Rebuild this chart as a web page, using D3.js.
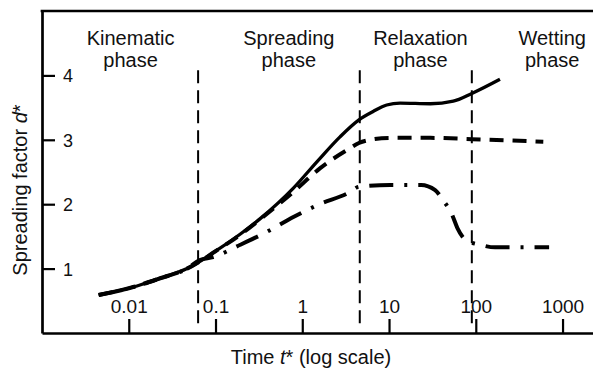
<!DOCTYPE html>
<html>
<head>
<meta charset="utf-8">
<script src="https://cdn.jsdelivr.net/npm/d3@7"></script>
<style>
  body { margin: 0; background: #fff; }
  svg { display: block; font-family: "Liberation Sans", Arial, sans-serif; }
</style>
</head>
<body>
<div id="chart"></div>
<script>
// time values (t*, log scale) and spreading factor d* for the three curves
var solidT = [0.0045, 0.011, 0.023, 0.047, 0.1, 0.19, 0.33, 0.79, 1.5, 2.74, 4.5, 6.56, 9.4, 13.4, 30, 55, 90, 190];
var solidD = [0.59, 0.71, 0.85, 1.0, 1.27, 1.53, 1.78, 2.25, 2.67, 3.05, 3.31, 3.44, 3.54, 3.57, 3.56, 3.6, 3.72, 3.94];

var dashedT = [0.0045, 0.011, 0.023, 0.047, 0.1, 0.19, 0.33, 0.79, 1.61, 3.56, 4.5, 6.05, 10.3, 30, 90, 600];
var dashedD = [0.59, 0.71, 0.85, 1.0, 1.27, 1.52, 1.77, 2.19, 2.56, 2.87, 2.95, 3.0, 3.03, 3.03, 3.01, 2.97];

var dashDotT = [0.0045, 0.011, 0.023, 0.047, 0.065, 0.094, 0.193, 0.39, 0.79, 1.52, 3.56, 4.5, 10.3, 23.4, 34, 42, 52.8, 61.4, 77.3, 112, 167, 700];
var dashDotD = [0.59, 0.71, 0.85, 1.0, 1.13, 1.18, 1.37, 1.57, 1.8, 1.99, 2.19, 2.27, 2.3, 2.3, 2.22, 2.06, 1.85, 1.63, 1.44, 1.37, 1.33, 1.33];

// phase boundaries and labels
var phaseBounds = [0.063, 4.6, 90];
var phaseNames = [["Kinematic", "phase"], ["Spreading", "phase"], ["Relaxation", "phase"], ["Wetting", "phase"]];
var phaseCenters = [0.0105, 0.7, 23, 760];

var xTicks = [0.01, 0.1, 1, 10, 100, 1000];
var xTickLabels = ["0.01", "0.1", "1", "10", "100", "1000"];
var yTicks = [1, 2, 3, 4];

var svgWidth = 593;
var svgHeight = 368;

var plotLeft = 42, plotTop = 11, plotRight = 593, plotBottom = 333;

var svg = d3.select("#chart")
  .append("svg")
  .attr("width", svgWidth)
  .attr("height", svgHeight);

var x = d3.scaleLog().domain([0.001, 2244]).range([plotLeft, plotRight]);
var y = d3.scaleLinear().domain([0, 5]).range([plotBottom, plotTop]);

// vertical phase lines
svg.selectAll(".phase-line")
  .data(phaseBounds)
  .enter()
  .append("line")
  .attr("class", "phase-line")
  .attr("x1", d => x(d))
  .attr("x2", d => x(d))
  .attr("y1", y(4.08))
  .attr("y2", y(0.11))
  .attr("stroke", "#000")
  .attr("stroke-width", 2)
  .attr("stroke-dasharray", "13,7");

// phase labels
phaseNames.forEach(function(lines, i) {
  var t = svg.append("text")
    .attr("x", x(phaseCenters[i]))
    .attr("text-anchor", "middle")
    .attr("font-size", 20)
    .attr("fill", "#111");
  lines.forEach(function(s, j) {
    t.append("tspan")
      .attr("x", x(phaseCenters[i]))
      .attr("y", 45 + j * 22)
      .text(s);
  });
});

// curves
var line = d3.line()
  .x(d => x(d[0]))
  .y(d => y(d[1]))
  .curve(d3.curveMonotoneX);

function drawCurve(ts, ds, width, dash) {
  svg.append("path")
    .datum(ts.map((t, i) => [t, ds[i]]))
    .attr("d", line)
    .attr("fill", "none")
    .attr("stroke", "#000")
    .attr("stroke-width", width)
    .attr("stroke-dasharray", dash);
}

drawCurve(dashDotT, dashDotD, 4, "24,11,3,11");
drawCurve(dashedT, dashedD, 4, "14,9");
drawCurve(solidT, solidD, 3.3, null);

// axes
var bottomAxis = d3.axisBottom(x)
  .tickValues(xTicks)
  .tickFormat((d, i) => xTickLabels[i])
  .tickSizeInner(-14)
  .tickSizeOuter(0);

var leftAxis = d3.axisLeft(y)
  .tickValues(yTicks)
  .tickFormat(d3.format("d"))
  .tickSizeInner(-13)
  .tickSizeOuter(0);

var gx = svg.append("g")
  .attr("transform", `translate(0, ${plotBottom})`)
  .call(bottomAxis);

gx.select(".domain").attr("stroke-width", 2.7);
gx.selectAll(".tick line").attr("stroke-width", 2.2);
gx.selectAll(".tick text")
  .attr("y", -20)
  .attr("dy", 0)
  .attr("font-size", 19)
  .attr("font-family", "Liberation Sans, Arial, sans-serif")
  .attr("fill", "#111");

var gy = svg.append("g")
  .attr("transform", `translate(${plotLeft}, 0)`)
  .call(leftAxis);

gy.select(".domain").attr("stroke-width", 2.7);
gy.selectAll(".tick line").attr("stroke-width", 2.2);
gy.selectAll(".tick text")
  .attr("x", 21)
  .attr("dy", "0.36em")
  .attr("text-anchor", "start")
  .attr("font-size", 18)
  .attr("font-family", "Liberation Sans, Arial, sans-serif")
  .attr("fill", "#111");

// top frame line
svg.append("line")
  .attr("x1", plotLeft - 1.35)
  .attr("x2", plotRight)
  .attr("y1", plotTop)
  .attr("y2", plotTop)
  .attr("stroke", "#000")
  .attr("stroke-width", 2.7);

// axis titles
var yTitle = svg.append("text")
  .attr("transform", "translate(27, 190) rotate(-90)")
  .attr("text-anchor", "middle")
  .attr("font-size", 20)
  .attr("fill", "#111");
yTitle.append("tspan").text("Spreading factor ");
yTitle.append("tspan").attr("font-style", "italic").text("d");
yTitle.append("tspan").text("*");

var xTitle = svg.append("text")
  .attr("x", 311)
  .attr("y", 364)
  .attr("text-anchor", "middle")
  .attr("font-size", 20)
  .attr("fill", "#111");
xTitle.append("tspan").text("Time ");
xTitle.append("tspan").attr("font-style", "italic").text("t");
xTitle.append("tspan").text("* (log scale)");
</script>
</body>
</html>
